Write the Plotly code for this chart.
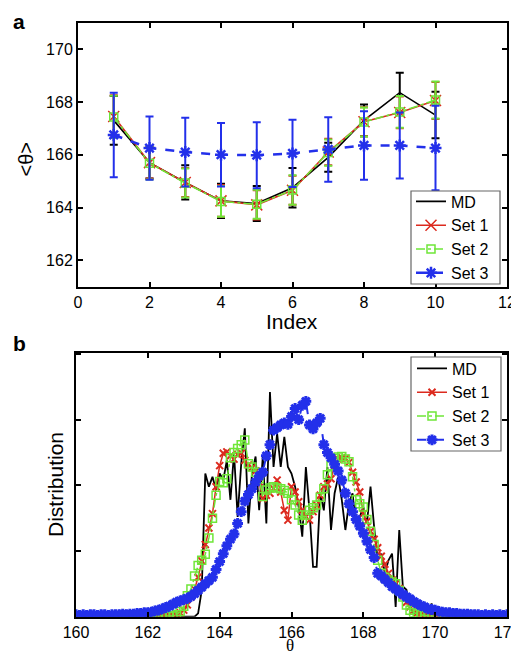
import numpy as np
import plotly.graph_objects as go

# ---------------- Panel a data ----------------
index = [1, 2, 3, 4, 5, 6, 7, 8, 9, 10]
md_mean = [167.3, 165.7, 164.95, 164.25, 164.15, 164.75, 165.9, 167.3, 168.35, 167.5]
md_std = [0.92, 0.6, 0.65, 0.65, 0.66, 0.75, 0.55, 0.6, 0.75, 0.88]
set1_mean = [167.45, 165.7, 164.95, 164.25, 164.1, 164.65, 166.1, 167.25, 167.6, 168.05]
set1_std = [0.8, 0.6, 0.55, 0.6, 0.55, 0.55, 0.5, 0.55, 0.6, 0.7]
set2_mean = [167.43, 165.68, 164.93, 164.23, 164.12, 164.66, 166.08, 167.24, 167.62, 168.07]
set2_std = [0.8, 0.62, 0.55, 0.58, 0.55, 0.56, 0.5, 0.55, 0.6, 0.7]
set3_mean = [166.75, 166.25, 166.1, 166.0, 165.98, 166.05, 166.2, 166.35, 166.35, 166.25]
set3_std = [1.6, 1.2, 1.3, 1.2, 1.25, 1.27, 1.22, 1.3, 1.25, 1.6]

# ---------------- Panel b data ----------------
theta = [round(160 + 0.1 * i, 1) for i in range(121)]

md_dist = [0.0] * 34 + [
    0.05, 0.40, 2.18, 1.98, 2.13, 1.93, 2.18, 2.08, 2.38, 1.78,   # 163.4-164.3
    2.49, 1.52, 2.33, 2.87, 1.42, 2.18, 2.44, 1.62, 2.44, 1.42,   # 164.4-165.3
    3.42, 2.28, 2.79, 2.28, 2.74, 2.28, 2.18, 1.98, 1.67, 1.22,   # 165.4-166.3
    2.28, 1.62, 0.76, 0.76, 1.88, 1.62, 2.28, 1.32, 1.88, 2.13,   # 166.4-167.3
    1.78, 1.32, 1.73, 1.88, 1.37, 1.52, 1.67, 1.42, 1.98, 1.37,   # 167.4-168.3
    0.86, 0.96, 0.66, 0.86, 0.96, 0.15, 1.32, 0.46, 0.41, 0.15,   # 168.4-169.3
    0.05, 0.03, 0.02, 0.02, 0.05, 0.20, 0.08, 0.03] + [0.01] * 19

set1_dist = [0.01] * 27 + [
    0.02, 0.04, 0.06, 0.10, 0.18, 0.30, 0.42, 0.60, 0.85, 1.10,   # 162.7-163.6
    1.35, 1.57, 1.98, 2.30, 2.49, 2.51, 2.45, 2.40, 2.47, 2.49,   # 163.7-164.6
    2.38, 2.31, 2.27, 2.22, 2.05, 1.80, 1.85, 1.88, 1.95, 2.08,   # 164.7-165.6
    1.90, 1.62, 1.47, 1.98, 1.90, 1.75, 1.62, 1.52, 1.47, 1.60,   # 165.7-166.6
    1.70, 1.85, 1.98, 2.02, 2.10, 2.30, 2.40, 2.42, 2.41, 2.35,   # 166.7-167.6
    2.20, 2.05, 1.90, 1.57, 1.45, 1.30, 1.18, 1.05, 0.92, 0.80,   # 167.7-168.6
    0.66, 0.56, 0.50, 0.43, 0.32, 0.22, 0.15, 0.10, 0.06, 0.04,   # 168.7-169.6
    0.03, 0.02] + [0.01] * 22

set2_dist = [0.01] * 28 + [
    0.03, 0.08, 0.16, 0.32, 0.42, 0.62, 0.78, 0.86, 0.95, 1.20,   # 162.8-163.7
    1.50, 1.85, 2.06, 2.04, 2.10, 2.42, 2.50, 2.56, 2.62, 2.69,   # 163.8-164.7
    2.33, 2.28, 2.20, 2.10, 1.83, 1.93, 1.96, 1.98, 1.96, 1.95,   # 164.8-165.7
    1.92, 1.88, 1.78, 1.70, 1.55, 1.47, 1.55, 1.62, 1.66, 1.70,   # 165.8-166.7
    1.82, 1.95, 2.16, 2.30, 2.41, 2.43, 2.44, 2.40, 2.36, 2.13,   # 166.8-167.7
    1.78, 1.72, 1.67, 1.48, 1.30, 1.10, 0.86, 0.66, 0.60, 0.56,   # 167.8-168.7
    0.53, 0.50, 0.40, 0.30, 0.18, 0.10, 0.06, 0.04, 0.03, 0.02] + [0.01] * 23

set3_dist = [
    0.03, 0.02, 0.03, 0.02, 0.03, 0.03, 0.02, 0.03, 0.03, 0.02,   # 160.0-160.9
    0.03, 0.03, 0.03, 0.04, 0.03, 0.04, 0.04, 0.05, 0.05, 0.06,   # 161.0-161.9
    0.06, 0.07, 0.09, 0.10, 0.12, 0.14, 0.16, 0.19, 0.22, 0.24,   # 162.0-162.9
    0.26, 0.28, 0.31, 0.35, 0.40, 0.45, 0.50, 0.55, 0.60, 0.72,   # 163.0-163.9
    0.84, 0.96, 1.08, 1.18, 1.26, 1.42, 1.60, 1.76, 1.86, 1.95,   # 164.0-164.9
    2.05, 2.14, 2.20, 2.45, 2.62, 2.84, 2.88, 2.92, 2.95, 2.93,   # 165.0-165.9
    3.05, 3.17, 3.00, 3.22, 3.28, 2.92, 2.86, 2.95, 3.02, 2.62,   # 166.0-166.9
    2.50, 2.42, 2.32, 2.22, 2.08, 1.88, 1.72, 1.60, 1.48, 1.38,   # 167.0-167.9
    1.27, 1.15, 1.02, 0.90, 0.66, 0.62, 0.57, 0.52, 0.46, 0.42,   # 168.0-168.9
    0.38, 0.34, 0.30, 0.27, 0.23, 0.20, 0.17, 0.15, 0.12, 0.11,   # 169.0-169.9
    0.10, 0.08, 0.07, 0.06, 0.06, 0.05, 0.05, 0.04, 0.04, 0.04,   # 170.0-170.9
    0.03, 0.03, 0.03, 0.02, 0.03, 0.02, 0.03, 0.02, 0.03, 0.02,   # 171.0-171.9
    0.03]

for arr in (md_dist, set1_dist, set2_dist, set3_dist):
    assert len(arr) == len(theta), len(arr)

BLACK = "#000000"
RED = "#dc2a1e"
GREEN = "#6fe638"
BLUE = "#2330ea"

fig = go.Figure()

# ---- Panel a ----
def eb(arr, color):
    return dict(type="data", array=arr, visible=True, color=color, thickness=2, width=4)

fig.add_trace(go.Scatter(x=index, y=md_mean, mode="lines", name="MD",
                         line=dict(color=BLACK, width=1.6), error_y=eb(md_std, BLACK),
                         xaxis="x", yaxis="y", legend="legend"))
fig.add_trace(go.Scatter(x=index, y=set1_mean, mode="lines+markers", name="Set 1",
                         line=dict(color=RED, width=1.6),
                         marker=dict(symbol="x-thin-open", size=11, color=RED, line=dict(width=1.5, color=RED)),
                         error_y=eb(set1_std, RED), xaxis="x", yaxis="y", legend="legend"))
fig.add_trace(go.Scatter(x=index, y=set2_mean, mode="lines+markers", name="Set 2",
                         line=dict(color=GREEN, width=1.6, dash="dashdot"),
                         marker=dict(symbol="square-open", size=8, color=GREEN, line=dict(width=1.5, color=GREEN)),
                         error_y=eb(set2_std, GREEN), xaxis="x", yaxis="y", legend="legend"))
fig.add_trace(go.Scatter(x=index, y=set3_mean, mode="lines+markers", name="Set 3",
                         line=dict(color=BLUE, width=2.5, dash="dash"),
                         marker=dict(symbol="asterisk-open", size=10, color=BLUE, line=dict(width=2.5, color=BLUE)),
                         error_y=eb(set3_std, BLUE), xaxis="x", yaxis="y", legend="legend"))

# ---- Panel b ----
fig.add_trace(go.Scatter(x=theta, y=md_dist, mode="lines", name="MD",
                         line=dict(color=BLACK, width=1.8),
                         xaxis="x2", yaxis="y2", legend="legend2"))
fig.add_trace(go.Scatter(x=theta, y=set1_dist, mode="lines+markers", name="Set 1",
                         line=dict(color=RED, width=1.5),
                         marker=dict(symbol="x-thin-open", size=7, color=RED, line=dict(width=2, color=RED)),
                         xaxis="x2", yaxis="y2", legend="legend2"))
fig.add_trace(go.Scatter(x=theta, y=set2_dist, mode="lines+markers", name="Set 2",
                         line=dict(color=GREEN, width=1.5, dash="dashdot"),
                         marker=dict(symbol="square-open", size=8, color=GREEN, line=dict(width=1.5, color=GREEN)),
                         xaxis="x2", yaxis="y2", legend="legend2"))
fig.add_trace(go.Scatter(x=theta, y=set3_dist, mode="lines+markers", name="Set 3",
                         line=dict(color=BLUE, width=2, dash="dash"),
                         marker=dict(symbol="asterisk-open", size=9, color=BLUE, line=dict(width=3, color=BLUE)),
                         xaxis="x2", yaxis="y2", legend="legend2"))

# The page body has an 8px margin, so the figure is offset by 8px.
OFF = 8
W, H = 519 - OFF, 657 - OFF
def px_x(p):
    return (p - OFF) / W
def px_y(p):
    return 1 - (p - OFF) / H

axis_common = dict(showline=True, linecolor="black", linewidth=2, mirror="allticks",
                   ticks="inside", ticklen=5, tickwidth=1.5, tickcolor="black",
                   showgrid=False, zeroline=False, automargin=False, ticklabeloverflow="allow",
                   tickfont=dict(family="Liberation Sans, Arial", size=16, color="black"))

font_fam = "Liberation Sans, Arial, Helvetica"
legend_common = dict(bgcolor="rgba(0,0,0,0)", borderwidth=0,
                     font=dict(family=font_fam, size=16, color="black"),
                     itemwidth=30, tracegroupgap=0, xanchor="left", yanchor="middle")

fig.update_layout(
    width=W, height=H,
    margin=dict(l=0, r=0, t=0, b=0, autoexpand=False),
    paper_bgcolor="white", plot_bgcolor="white",
    showlegend=True,
    xaxis=dict(domain=[px_x(78), px_x(507)], range=[0, 12], tickvals=[0, 2, 4, 6, 8, 10, 12],
               anchor="y", **axis_common),
    yaxis=dict(domain=[px_y(286.7), px_y(22.7)], range=[161, 171], tickvals=[162, 164, 166, 168, 170],
               anchor="x", **axis_common),
    xaxis2=dict(domain=[px_x(76), px_x(507)], range=[160, 172], tickvals=[160, 162, 164, 166, 168, 170, 172],
                anchor="y2", **axis_common),
    yaxis2=dict(domain=[px_y(616.7), px_y(352.7)], range=[0, 4.02], tickvals=[0, 1, 2, 3, 4],
                showticklabels=False, anchor="x2", **axis_common),
    legend=dict(x=px_x(411), y=px_y(237.5), **legend_common),
    legend2=dict(x=px_x(412), y=px_y(404.5), **legend_common),
)

# legend frames
for (x0, x1, y0, y1) in [(411, 500, 191, 284), (411, 501, 357, 451)]:
    fig.add_shape(type="rect", xref="paper", yref="paper", layer="above",
                  x0=px_x(x0), x1=px_x(x1), y0=px_y(y1), y1=px_y(y0),
                  fillcolor="white", line=dict(color="#666666", width=1.2))

ann = [
    dict(text="<b>a</b>", x=px_x(19), y=px_y(21), size=21, fam=font_fam, ang=0, ya="middle"),
    dict(text="<b>b</b>", x=px_x(19), y=px_y(343), size=21, fam=font_fam, ang=0, ya="middle"),
    dict(text="&lt;θ&gt;", x=px_x(25.5), y=px_y(160), size=20, fam=font_fam, ang=-90, ya="middle"),
    dict(text="Index", x=px_x(292), y=px_y(321), size=21, fam=font_fam, ang=0, ya="middle"),
    dict(text="Distribution", x=px_x(55), y=px_y(485), size=21, fam=font_fam, ang=-90, ya="middle"),
    dict(text="θ", x=px_x(290), y=px_y(657), size=17, fam="Liberation Serif, Times New Roman", ang=0, ya="bottom"),
]
for a in ann:
    fig.add_annotation(text=a["text"], x=a["x"], y=a["y"], xref="paper", yref="paper",
                       xanchor="center", yanchor=a["ya"], showarrow=False, textangle=a["ang"],
                       font=dict(family=a["fam"], size=a["size"], color="black"))

fig.write_html("out.html")
